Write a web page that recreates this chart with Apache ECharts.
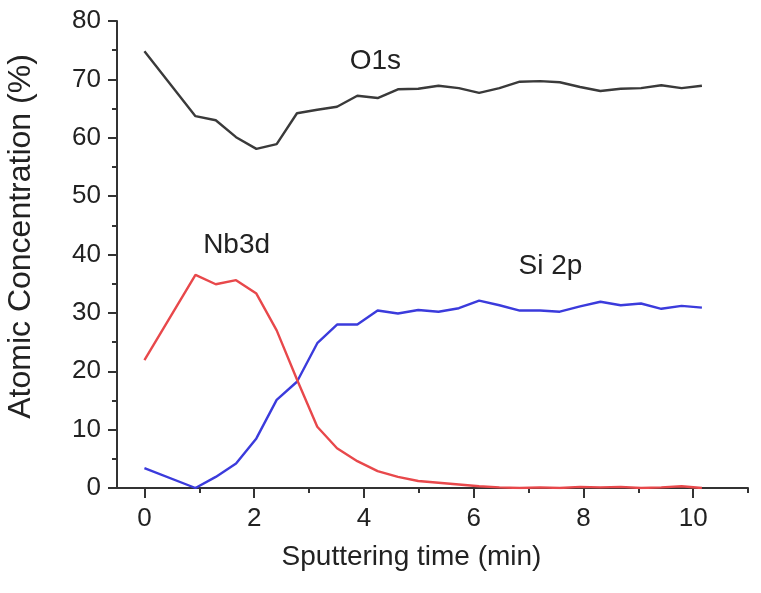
<!DOCTYPE html>
<html>
<head>
<meta charset="utf-8">
<script src="https://cdn.jsdelivr.net/npm/echarts@6/dist/echarts.min.js"></script>
<style>
html,body{margin:0;padding:0;background:#fff;}
#main{width:761px;height:593px;}
</style>
</head>
<body>
<div id="main"></div>
<script>
// Sputtering time (min)
var times = [0, 0.93, 1.3, 1.67, 2.04, 2.41, 2.78, 3.15, 3.51, 3.88, 4.25, 4.62, 4.99, 5.36, 5.73, 6.1, 6.47, 6.84, 7.21, 7.57, 7.94, 8.31, 8.68, 9.05, 9.42, 9.79, 10.16];
// Atomic concentration (%)
var o1s  = [74.8, 63.7, 63.0, 60.1, 58.1, 58.9, 64.2, 64.8, 65.3, 67.2, 66.8, 68.3, 68.4, 68.9, 68.5, 67.7, 68.5, 69.6, 69.7, 69.5, 68.7, 68.0, 68.4, 68.5, 69.0, 68.5, 68.9];
var nb3d = [21.9, 36.5, 34.9, 35.6, 33.3, 27.0, 18.6, 10.5, 6.8, 4.6, 2.9, 1.9, 1.2, 0.9, 0.6, 0.3, 0.1, 0.0, 0.1, 0.0, 0.2, 0.1, 0.2, 0.0, 0.1, 0.3, 0.0];
var si2p = [3.4, 0.0, 1.9, 4.2, 8.5, 15.1, 18.2, 24.8, 28.0, 28.0, 30.4, 29.9, 30.5, 30.2, 30.8, 32.1, 31.3, 30.4, 30.4, 30.2, 31.1, 31.9, 31.3, 31.6, 30.7, 31.2, 30.9];
var seriesNames = ['O1s', 'Nb3d', 'Si 2p'];
var labelPos = [[4.21, 73.1], [1.68, 41.6], [7.40, 37.9]];
var xMajorTicks = [0, 2, 4, 6, 8, 10];
var xMinorTicks = [1, 3, 5, 7, 9, 11];

function pairs(ys){ return times.map(function(t,i){ return [t, ys[i]]; }); }

var FONT = "'Liberation Sans', Arial, sans-serif";
var AX = '#333333';
var colors = ['#3a3a3a', '#e8484b', '#3b3bdc'];
var vals = [o1s, nb3d, si2p];

var chart = echarts.init(document.getElementById('main'), null, {renderer:'canvas'});
var option = {
  animation: false,
  backgroundColor: '#ffffff',
  grid: {left: 117, right: 13, top: 21, bottom: 105, containLabel: false, outerBoundsMode: 'none'},
  xAxis: [{
    type: 'value', min: -0.5, max: 11,
    name: 'Sputtering time (min)', nameLocation: 'middle', nameGap: 55,
    nameTextStyle: {fontFamily: FONT, fontSize: 28, color: '#222', padding: [0, 42, 0, 0]},
    axisLine: {show: true, onZero: false, lineStyle: {color: AX, width: 2}},
    axisTick: {show: true, length: 10, lineStyle: {color: AX, width: 2}, customValues: xMajorTicks},
    axisLabel: {fontFamily: FONT, fontSize: 26, color: '#222', margin: 18, customValues: xMajorTicks},
    splitLine: {show: false}
  }, {
    type: 'value', min: -0.5, max: 11, position: 'bottom',
    axisLine: {show: false, onZero: false},
    axisTick: {show: true, length: 5, lineStyle: {color: AX, width: 2}, customValues: xMinorTicks},
    axisLabel: {show: false},
    splitLine: {show: false}
  }],
  yAxis: {
    type: 'value', min: 0, max: 80, interval: 10,
    name: 'Atomic Concentration (%)', nameLocation: 'middle', nameGap: 80,
    nameTextStyle: {fontFamily: FONT, fontSize: 32, color: '#222', padding: [0, 0, 0, 36]},
    axisLine: {show: true, onZero: false, lineStyle: {color: AX, width: 2}},
    axisTick: {show: true, length: 9, lineStyle: {color: AX, width: 2}},
    minorTick: {show: true, splitNumber: 2, length: 5, lineStyle: {color: AX, width: 2}},
    axisLabel: {fontFamily: FONT, fontSize: 26, color: '#222', margin: 16},
    splitLine: {show: false}
  },
  series: seriesNames.map(function(n, i){
    return {
      name: n, type: 'line', data: pairs(vals[i]), showSymbol: false, smooth: false,
      lineStyle: {color: colors[i], width: 2.4}, itemStyle: {color: colors[i]},
      z: 3 - i,
      markPoint: {
        symbol: 'circle', symbolSize: 1, silent: true,
        itemStyle: {color: 'rgba(0,0,0,0)'},
        label: {show: true, position: 'inside', formatter: n, fontFamily: FONT, fontSize: 28, color: '#222'},
        data: [{coord: labelPos[i]}]
      }
    };
  })
};
chart.setOption(option);
</script>
</body>
</html>
